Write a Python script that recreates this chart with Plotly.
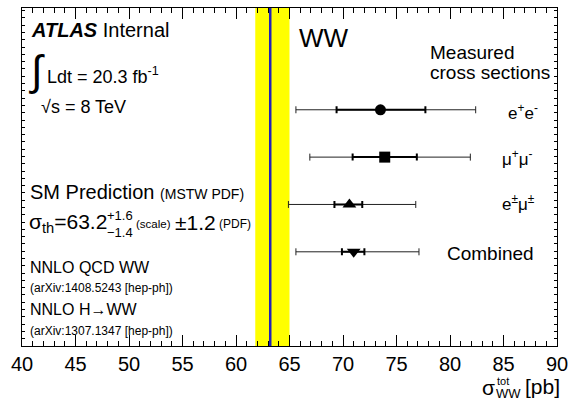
import plotly.graph_objects as go

# ---- data ----
channels = ["e<sup>+</sup>e<sup>-</sup>", "μ<sup>+</sup>μ<sup>-</sup>", "e<sup>±</sup>μ<sup>±</sup>", "Combined"]
row_pos = [4, 3, 2, 1]
central = [73.5, 73.9, 70.6, 71.0]
inner_lo = [69.4, 70.9, 69.2, 69.9]
inner_hi = [77.7, 76.9, 71.8, 72.0]
outer_lo = [65.6, 66.9, 64.9, 65.6]
outer_hi = [82.4, 81.9, 76.8, 77.1]
symbols = ["circle", "square", "triangle-up", "triangle-down"]
marker_sizes = [11, 11, 12, 12]

sm_central = 63.2
sm_band_lo = 61.8
sm_band_hi = 65.0

x_range = [40, 90]
y_range = [-0.99, 6.15]

FONT = "Liberation Sans, Arial, Helvetica, sans-serif"

fig = go.Figure()

# SM band and line
fig.add_shape(type="rect", xref="x", yref="paper", x0=sm_band_lo, x1=sm_band_hi, y0=0, y1=1,
              fillcolor="#FFFF00", line=dict(width=0), layer="below")
fig.add_shape(type="line", xref="x", yref="paper", x0=sm_central, x1=sm_central, y0=0, y1=1,
              line=dict(color="#2222BB", width=2.5), layer="below")

for i in range(len(central)):
    # outer (total) error
    fig.add_trace(go.Scatter(
        x=[central[i]], y=[row_pos[i]], mode="markers",
        marker=dict(size=1, color="rgba(0,0,0,0)"),
        error_x=dict(type="data", symmetric=False,
                     array=[outer_hi[i] - central[i]], arrayminus=[central[i] - outer_lo[i]],
                     color="#222222", thickness=1, width=3.5),
        showlegend=False, hoverinfo="skip"))
    # inner (stat) error + marker
    fig.add_trace(go.Scatter(
        x=[central[i]], y=[row_pos[i]], mode="markers",
        marker=dict(size=marker_sizes[i], color="black", symbol=symbols[i]),
        error_x=dict(type="data", symmetric=False,
                     array=[inner_hi[i] - central[i]], arrayminus=[central[i] - inner_lo[i]],
                     color="black", thickness=2, width=3.5),
        showlegend=False, hoverinfo="skip"))

# ---- layout ----
L, R, T, B = 22, 12, 7, 56
W, H = 575, 402
pw, ph = W - L - R, H - T - B


def px(x):
    return (x - L) / pw


def py(y):
    return (H - B - y) / ph


annots = []


def txt(text, x, y, size, xanchor="left", color="black"):
    annots.append(dict(text=text, x=px(x), y=py(y), xref="paper", yref="paper",
                       xanchor=xanchor, yanchor="middle", showarrow=False,
                       font=dict(size=size, color=color, family=FONT)))


txt("<b><i>ATLAS</i></b> Internal", 29, 29.5, 20)
txt("∫", 27, 70, 42)
txt("Ldt = 20.3 fb<sup>-1</sup>", 45, 75, 18)
txt("√s = 8 TeV", 39, 106, 18)
txt("SM Prediction <span style='font-size:14px'>(MSTW PDF)</span>", 28, 192, 20)
txt("σ<sub>th</sub>=63.2", 27, 223, 21)
txt("+1.6", 106, 215, 13)
txt("−1.4", 106, 232, 13)
txt("(scale)", 135, 224, 11.5)
txt("±1.2", 175, 222, 21)
txt("(PDF)", 219, 224, 12)
txt("NNLO QCD WW", 28, 267, 16)
txt("(arXiv:1408.5243 [hep-ph])", 28, 288, 12)
txt("NNLO H→WW", 28, 309, 16)
txt("(arXiv:1307.1347 [hep-ph])", 28, 331, 12)
txt("WW", 300, 37, 26)
txt("Measured", 433, 52, 19)
txt("cross sections", 433, 72, 19)

label_x = [511, 505, 505, 450]
label_y = [111, 157, 203, 253]
label_size = [17, 17, 17, 19]
for i in range(len(channels)):
    txt(channels[i], label_x[i], label_y[i], label_size[i])

# axis title
txt("σ", 485, 388, 21)
txt("tot", 500, 381.5, 11)
txt("WW", 499, 394, 13)
txt("[pb]", 529, 387, 21)

fig.update_layout(
    width=W, height=H,
    margin=dict(l=L, r=R, t=T, b=B, pad=0),
    paper_bgcolor="white", plot_bgcolor="white",
    annotations=annots,
    font=dict(family=FONT, color="black"),
    xaxis=dict(range=x_range, dtick=5, tick0=40, ticks="inside", ticklen=11, tickwidth=1,
               tickcolor="black", showgrid=False, zeroline=False, showline=True,
               linecolor="black", linewidth=1, mirror="allticks",
               tickfont=dict(size=20, family=FONT, color="black"),
               minor=dict(ticks="inside", ticklen=5, dtick=1, tickcolor="black", showgrid=False)),
    yaxis=dict(range=y_range, showticklabels=False, ticks="inside", ticklen=3, tickcolor="black",
               dtick=0.154, tick0=y_range[0], showgrid=False, zeroline=False, showline=True,
               linecolor="black", linewidth=1, mirror="allticks"),
)

fig.write_html("out.html")
